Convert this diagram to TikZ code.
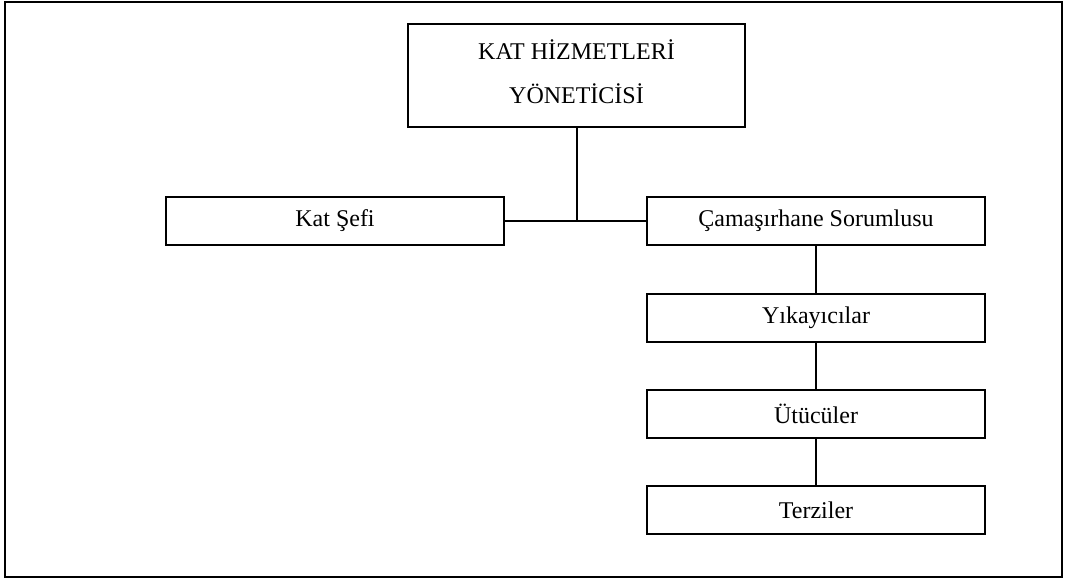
\documentclass[tikz,border=0pt]{standalone}
\usepackage{fontspec}
\setmainfont{Liberation Serif}
\begin{document}
\begin{tikzpicture}[x=0.75pt, y=-0.75pt, line width=1.5pt,
    birim/.style={draw, rectangle, minimum width=253pt, minimum height=35.5pt,
        inner sep=2pt, font=\fontsize{18}{33}\selectfont}]
\useasboundingbox (0,0) rectangle (1066,582);
\draw (5,1.5) rectangle (1062,577);

\node[birim, minimum height=77pt, align=center] (yonetici) at (576.5,75.5)
    {KAT HİZMETLERİ\\YÖNETİCİSİ\vspace{6pt}};
\node[birim] (sef) at (335,221) {Kat Şefi};
\node[birim] (camasir) at (816,221) {Çamaşırhane Sorumlusu};

\draw (sef.east)--(camasir.west);
\draw (yonetici.south)--(yonetici.south |- sef.east);

\foreach \y/\ad/\ust/\metin in {318/yika/camasir/Yıkayıcılar, 414/utu/yika/Ütücüler, 510/terzi/utu/Terziler}
{
    \node[birim] (\ad) at (816,\y) {\metin};
    \draw (\ust.south)--(\ad.north);
}
\end{tikzpicture}
\end{document}
